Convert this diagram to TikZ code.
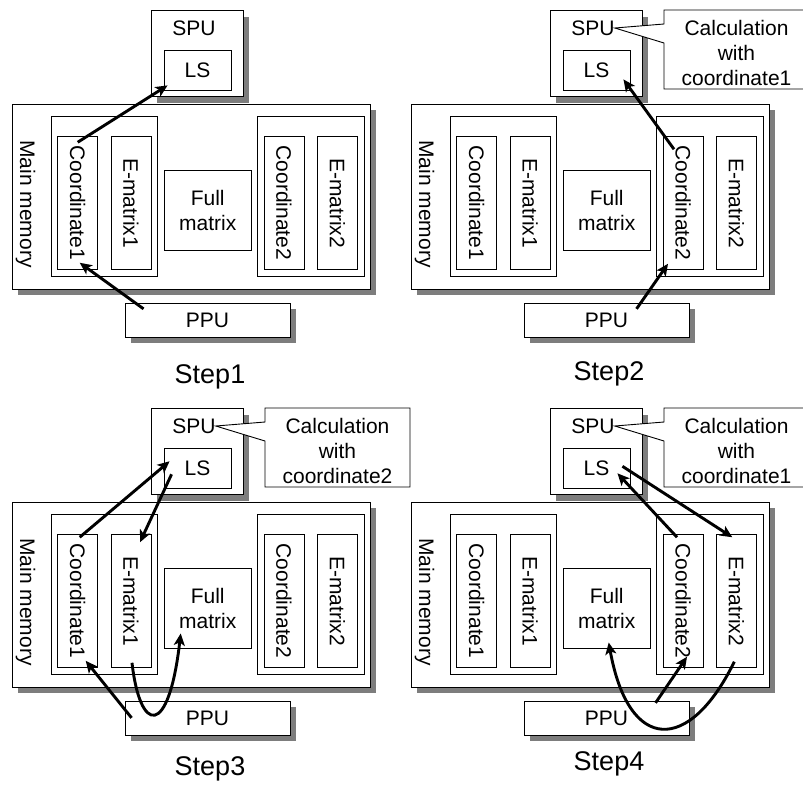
\documentclass[tikz,border=0pt]{standalone}
\usepackage{fontspec}
\setmainfont{Liberation Sans}
\usepackage{tikz}
\usetikzlibrary{arrows.meta,shadows}
\definecolor{shadowgray}{RGB}{125,125,125}

\begin{document}
\begin{tikzpicture}[x=1pt, y=-1pt,
    every node/.style={font=\fontsize{21}{25}\selectfont, inner sep=0pt},
    box/.style={draw=black, line width=0.9pt, fill=white},
    shbox/.style={box, drop shadow={shadow xshift=6pt, shadow yshift=-6pt, fill=shadowgray, opacity=1}},
    membox/.style={box, minimum width=40pt, minimum height=132.6pt},
    flow/.style={line width=2.9pt, -{Stealth[length=12pt,width=11pt,inset=3pt]}},
    steplbl/.style={font=\fontsize{27}{30}\selectfont, anchor=base},
    callout/.style={draw=black, line width=0.9pt, fill=white}]
    \useasboundingbox (0,0) rectangle (803,785);
    \clip (0,0) rectangle (803,785);

    % The four steps share the same memory layout
    \foreach \px/\py/\s/\sy in {0/0/1/383, 399/0/2/380, 0/398/3/377, 399/398/4/372} {
        \begin{scope}[shift={(\px,\py)}]
            \node[shbox, minimum width=358pt, minimum height=185pt] (mem\s) at (191,196.5) {};
            \node (memlbl\s) at (25.5,204) {\rotatebox{-90}{Main memory}};

            \node[box, minimum width=106.7pt, minimum height=160pt] (grpA\s) at (104.3,196.7) {};
            \node[membox] (coordA\s) at (77.7,203) {\rotatebox{-90}{Coordinate1}};
            \node[membox] (ematA\s) at (131,203) {\rotatebox{-90}{E-matrix1}};

            \node[box, minimum width=86.7pt, minimum height=80pt, align=center] (full\s) at (207.7,210) {Full\\matrix};

            \node[box, minimum width=107pt, minimum height=160pt] (grpB\s) at (310.8,196.7) {};
            \node[membox] (coordB\s) at (284,203) {\rotatebox{-90}{Coordinate2}};
            \node[membox] (ematB\s) at (337.3,203) {\rotatebox{-90}{E-matrix2}};

            \node[shbox, minimum width=92.3pt, minimum height=86pt] (spu\s) at (197.2,53.7) {};
            \node (spulbl\s) at (194,28) {SPU};
            \node[box, minimum width=67pt, minimum height=39.3pt] (ls\s) at (197.5,70.3) {LS};

            \node[shbox, minimum width=165pt, minimum height=34pt] (ppu\s) at (207.5,320.3) {PPU};

            \node[steplbl] (step\s) at (210,\sy) {Step\s};
        \end{scope}
    }

    % Callouts
    \foreach \px/\py/\s/\cn in {399/0/2/coordinate1, 0/398/3/coordinate2, 399/398/4/coordinate1} {
        \begin{scope}[shift={(\px,\py)}]
            \draw[callout] (265,24) -- (265,10) -- (410,10) -- (410,89) -- (265,89) -- (265,43) -- (spulbl\s.east) -- cycle;
            \node[align=center] (calc\s) at (337.5,53) {Calculation\\with\\\cn};
        \end{scope}
    }

    % Step1
    \draw[flow] ([yshift=-6pt]coordA1.north) -- ([shift={(4pt,5pt)}]ls1.south west);
    \draw[flow] ([shift={(19pt,-6pt)}]ppu1.north west) -- ([shift={(2pt,7pt)}]coordA1.south);

    % Step2
    \draw[flow] ([shift={(-9pt,-13pt)}]coordB2.north) -- ([shift={(-7pt,11pt)}]ls2.south east);
    \draw[flow] ([shift={(113pt,-6pt)}]ppu2.north west) -- ([shift={(-15pt,6pt)}]coordB2.south);

    % Step3
    \draw[flow] ([shift={(2pt,-3pt)}]coordA3.north) -- ([shift={(6pt,7pt)}]ls3.west);
    \draw[flow] ([shift={(8pt,-6pt)}]ls3.west) -- ([shift={(9pt,-8pt)}]ematA3.north);
    \draw[flow] ([shift={(7pt,-17pt)}]ppu3.north west) -- ([shift={(8pt,7pt)}]coordA3.south);
    \draw[flow] ([shift={(1pt,5pt)}]ematA3.south) .. controls +(8,71) and +(-12,105) .. ([shift={(-27pt,15pt)}]full3.south);

    % Step4
    \draw[flow] ([shift={(-6pt,-3pt)}]coordB4.north) -- ([shift={(-13pt,-5pt)}]ls4.east);
    \draw[flow] ([shift={(-8pt,2pt)}]ls4.east) -- ([shift={(-4pt,-3pt)}]ematB4.north);
    \draw[flow] ([shift={(132pt,-2pt)}]ppu4.north west) -- ([shift={(4pt,11pt)}]coordB4.south);
    \draw[flow] ([shift={(-2pt,6pt)}]ematB4.south) .. controls +(-45,92) and +(20,111) .. ([shift={(2pt,6pt)}]full4.south);
\end{tikzpicture}
\end{document}
